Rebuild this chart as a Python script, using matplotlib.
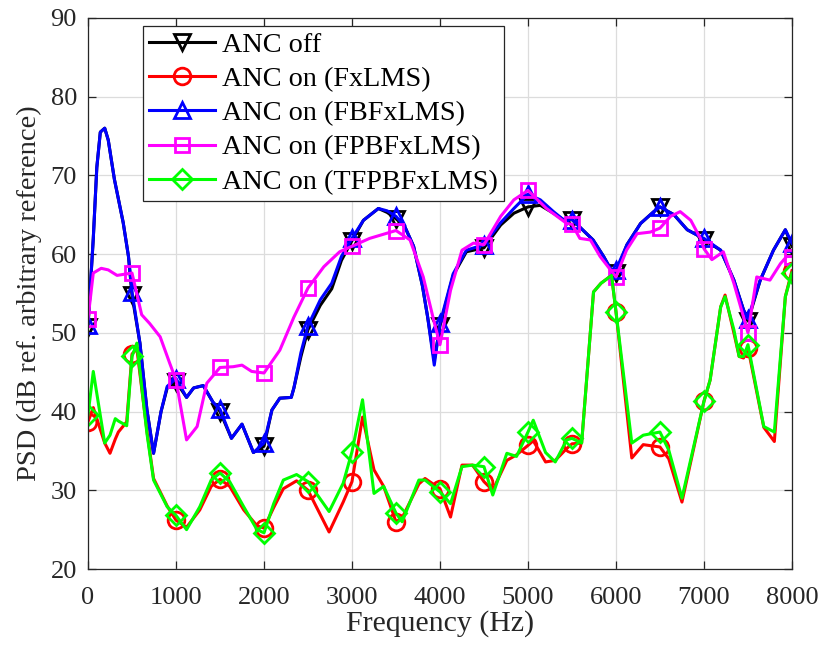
import numpy as np
import matplotlib
matplotlib.use('Agg')
import matplotlib.pyplot as plt

plt.rcParams['font.family'] = ['Liberation Serif', 'DejaVu Serif']
plt.rcParams['mathtext.fontset'] = 'stix'

# ANC off / FBFxLMS share one frequency grid (Hz)
freq_fb = [0, 60, 100, 140, 190, 230, 300, 400, 460, 500, 590, 670, 745, 830, 900,
           1000, 1120, 1200, 1310, 1420, 1500, 1630, 1750, 1880, 2000, 2090, 2180,
           2310, 2340, 2420, 2500, 2640, 2770, 2880, 3000, 3130, 3300, 3400, 3500,
           3600, 3700, 3800, 3860, 3935, 4000, 4150, 4300, 4500, 4690, 4840, 5000,
           5140, 5290, 5400, 5500, 5740, 5860, 5970, 6000, 6125, 6280, 6430, 6500,
           6660, 6810, 6960, 7000, 7190, 7340, 7450, 7490, 7500, 7640, 7790, 7925,
           8000]
psd_fbfxlms = [51.0, 62.0, 71.0, 75.5, 76.0, 74.5, 69.5, 64.0, 59.7, 55.2, 48.7, 40.2,
               34.7, 40.0, 43.2, 44.2, 41.8, 43.0, 43.3, 41.2, 40.3, 36.6, 38.4, 34.8,
               36.0, 40.2, 41.7, 41.8, 43.0, 47.5, 50.9, 54.2, 56.3, 59.7, 62.0, 64.3,
               65.8, 65.5, 64.8, 63.5, 61.0, 56.0, 52.0, 45.9, 51.2, 57.5, 60.5, 61.2,
               64.0, 65.8, 67.6, 66.9, 65.4, 64.4, 64.4, 61.8, 59.7, 57.5, 58.0, 61.2,
               63.9, 65.4, 66.0, 65.0, 63.1, 62.2, 62.0, 60.5, 56.7, 52.9, 52.0, 51.8,
               56.7, 60.5, 63.1, 61.4]
psd_off = [50.8, 62.0, 71.0, 75.5, 76.0, 74.5, 69.5, 64.0, 59.7, 54.8, 48.7, 40.2,
           34.7, 40.0, 43.0, 43.8, 41.8, 43.0, 43.3, 41.2, 40.0, 36.6, 38.4, 34.8,
           35.6, 40.2, 41.7, 41.8, 43.0, 47.0, 50.4, 53.5, 55.6, 59.2, 61.7, 64.3,
           65.8, 65.3, 64.5, 63.5, 61.0, 56.0, 52.0, 46.5, 50.9, 57.3, 60.3, 60.8,
           63.7, 65.2, 66.0, 66.2, 65.2, 64.4, 64.4, 61.8, 59.7, 57.5, 57.6, 61.2,
           63.9, 65.4, 66.0, 65.0, 63.1, 62.2, 61.8, 60.5, 56.7, 52.9, 52.0, 51.5,
           56.7, 60.5, 63.1, 61.0]

# FPBFxLMS
freq_fpb = [0, 60, 150, 230, 330, 500, 610, 700, 820, 930, 1000, 1120, 1240, 1350,
            1500, 1650, 1750, 1860, 2000, 2180, 2340, 2500, 2680, 2860, 3000, 3200,
            3500, 3660, 3810, 3920, 4000, 4120, 4250, 4380, 4500, 4690, 4840, 5000,
            5210, 5440, 5500, 5590, 5710, 5820, 6000, 6120, 6240, 6390, 6500, 6620,
            6730, 6850, 6960, 7000, 7090, 7220, 7340, 7450, 7500, 7600, 7750, 7870,
            7940, 8000]
psd_fpbfxlms = [51.8, 57.6, 58.2, 58.0, 57.3, 57.6, 52.3, 51.2, 49.5, 46.1, 44.0, 36.4,
                38.1, 43.6, 45.6, 45.7, 45.9, 45.1, 44.9, 47.8, 52.0, 55.7, 58.4, 60.3,
                61.0, 62.0, 63.0, 61.8, 57.1, 52.0, 48.5, 55.4, 60.5, 61.4, 61.2, 64.8,
                66.9, 68.1, 65.8, 63.9, 63.8, 62.0, 61.8, 59.7, 57.1, 60.5, 62.6, 62.8,
                63.3, 64.8, 65.4, 64.3, 62.0, 60.7, 59.3, 60.3, 56.3, 52.0, 50.0, 57.1,
                56.7, 58.8, 59.7, 59.7]

# FxLMS / TFPBFxLMS share one frequency grid
freq_low = [0, 60, 190, 250, 310, 345, 440, 500, 555, 670, 745, 900, 1000, 1120, 1270,
            1400, 1500, 1610, 1770, 1920, 2000, 2110, 2220, 2370, 2500, 2740, 2900,
            3000, 3120, 3250, 3360, 3500, 3570, 3760, 3830, 4000, 4120, 4250, 4370,
            4500, 4600, 4760, 4870, 5000, 5060, 5200, 5310, 5440, 5500, 5610, 5745,
            5830, 5950, 6000, 6180, 6310, 6500, 6600, 6750, 7000, 7070, 7190, 7240,
            7340, 7400, 7450, 7500, 7680, 7800, 7925, 8000]
psd_fxlms = [38.7, 40.5, 36.0, 34.7, 36.5, 37.4, 38.7, 47.3, 48.0, 37.5, 31.5, 28.0,
             26.2, 25.3, 27.5, 30.5, 31.4, 30.5, 27.5, 25.5, 25.2, 27.8, 30.2, 31.2,
             30.0, 24.7, 28.5, 31.1, 39.3, 32.6, 30.5, 26.0, 26.5, 30.8, 31.5, 30.2,
             26.6, 33.2, 33.2, 31.1, 30.0, 33.8, 34.5, 35.7, 36.3, 33.6, 33.8, 35.3,
             35.9, 36.0, 55.2, 56.3, 57.3, 52.7, 34.1, 35.8, 35.5, 34.0, 28.5, 41.3,
             44.0, 53.3, 54.8, 50.0, 47.0, 46.8, 48.1, 38.0, 36.2, 54.6, 57.9]
psd_tfpbfxlms = [39.6, 45.1, 36.0, 37.0, 39.1, 38.8, 38.2, 47.0, 48.7, 37.2, 31.3, 27.9,
                 26.8, 25.0, 27.9, 31.3, 32.2, 31.1, 27.9, 25.0, 24.6, 28.3, 31.3, 32.0,
                 31.1, 27.3, 30.9, 34.9, 41.5, 29.6, 30.5, 27.1, 26.0, 31.3, 31.3, 29.8,
                 28.3, 33.0, 33.2, 33.0, 29.4, 34.7, 34.3, 37.4, 38.9, 34.8, 33.6, 36.4,
                 36.6, 36.0, 55.2, 56.3, 57.3, 52.7, 36.0, 37.0, 37.4, 35.1, 29.0, 41.3,
                 44.0, 53.3, 54.6, 50.4, 47.0, 47.0, 48.5, 38.1, 37.4, 54.6, 57.6]

series = [
    ('ANC off', freq_fb, psd_off, 'k', 'v'),
    ('ANC on (FxLMS)', freq_low, psd_fxlms, '#ff0000', 'o'),
    ('ANC on (FBFxLMS)', freq_fb, psd_fbfxlms, '#0000ff', '^'),
    ('ANC on (FPBFxLMS)', freq_fpb, psd_fpbfxlms, '#ff00ff', 's'),
    ('ANC on (TFPBFxLMS)', freq_low, psd_tfpbfxlms, '#00ff00', 'D'),
]
marker_sizes = {'v': 12, 'o': 12, '^': 12, 's': 10, 'D': 10}

fig = plt.figure(figsize=(8.24, 6.52), dpi=100)
ax = fig.add_axes([0.1068, 0.1273, 0.8543, 0.8451])

# markers only at every 500 Hz
for label, f, p, color, mk in series:
    f = np.asarray(f)
    marks = (f % 500) == 0
    ax.plot(f, p, color=color, lw=2.2, marker=mk, markevery=marks,
            ms=marker_sizes[mk], mfc='none', mec=color, mew=2.0, label=label)

ax.set_xlim(0, 8000)
ax.set_ylim(20, 90)
ax.set_xticks(np.arange(0, 8001, 1000))
ax.set_yticks(np.arange(20, 91, 10))
ax.grid(True, color='#dcdcdc', lw=0.9)
ax.set_axisbelow(True)
ax.tick_params(direction='in', top=True, right=True, length=6, width=0.9,
               colors='#262626', labelsize=19)
ax.tick_params(axis='x', pad=13)
ax.tick_params(axis='y', pad=8)
for sp in ax.spines.values():
    sp.set_color('#262626')
    sp.set_linewidth(0.9)

ax.set_xlabel('Frequency (Hz)', fontsize=21.5, color='#262626', labelpad=1)
ax.set_ylabel('PSD (dB ref. arbitrary reference)', fontsize=20.5, color='#262626', labelpad=6)

leg = ax.legend(loc='upper left', bbox_to_anchor=(0.078, 0.9855), fontsize=20.3,
                handlelength=2.35, handletextpad=0.22, labelspacing=0.3,
                borderpad=0.22, borderaxespad=0.0, frameon=True, fancybox=False,
                edgecolor='#262626', framealpha=1.0)
leg.get_frame().set_linewidth(0.9)

fig.savefig('out.png', dpi=100)
